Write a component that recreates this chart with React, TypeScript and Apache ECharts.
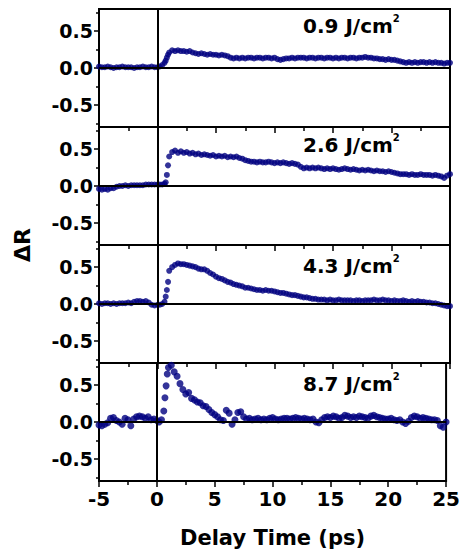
import React, { useEffect, useRef } from 'react';
import * as echarts from 'echarts';

// Delay time (ps) shared by all four panels
const TIME = [
  -5, -4.75, -4.5, -4.25, -4, -3.75, -3.5, -3.25, -3, -2.75, -2.5, -2.25, -2, -1.75, -1.5, -1.25, -1, -0.75, -0.5, -0.25,
  0, 0.2, 0.4, 0.6, 0.7, 0.8, 0.9, 1.0,
  1.25, 1.5, 1.75, 2, 2.25, 2.5, 2.75, 3, 3.25, 3.5, 3.75, 4, 4.25, 4.5, 4.75, 5,
  5.25, 5.5, 5.75, 6, 6.25, 6.5, 6.75, 7, 7.25, 7.5, 7.75, 8, 8.25, 8.5, 8.75, 9, 9.25, 9.5, 9.75, 10,
  10.25, 10.5, 10.75, 11, 11.25, 11.5, 11.75, 12, 12.25, 12.5, 12.75, 13, 13.25, 13.5, 13.75, 14, 14.25, 14.5, 14.75, 15,
  15.25, 15.5, 15.75, 16, 16.25, 16.5, 16.75, 17, 17.25, 17.5, 17.75, 18, 18.25, 18.5, 18.75, 19, 19.25, 19.5, 19.75, 20,
  20.25, 20.5, 20.75, 21, 21.25, 21.5, 21.75, 22, 22.25, 22.5, 22.75, 23, 23.25, 23.5, 23.75, 24, 24.25, 24.5, 24.75, 25,
];

// ΔR at 0.9 J/cm²
const R_09 = [
  0.02, 0.01, 0.01, 0.02, 0.01, 0.0, 0.01, 0.01, 0.02, 0.01, 0.01, 0.01, 0.0, 0.01, 0.01, 0.02, 0.01, 0.01, 0.02, 0.01,
  0.01, 0.02, 0.04, 0.07, 0.1, 0.14, 0.18, 0.21,
  0.24, 0.23, 0.24, 0.23, 0.23, 0.22, 0.23, 0.21, 0.2, 0.19, 0.2, 0.19, 0.18, 0.19, 0.18, 0.18,
  0.17, 0.18, 0.17, 0.16, 0.14, 0.13, 0.14, 0.13, 0.14, 0.13, 0.14, 0.14, 0.13, 0.14, 0.14, 0.13, 0.14, 0.14, 0.13, 0.14,
  0.12, 0.11, 0.12, 0.13, 0.13, 0.14, 0.13, 0.14, 0.14, 0.14, 0.13, 0.14, 0.14, 0.13, 0.14, 0.14, 0.13, 0.14, 0.14, 0.13,
  0.14, 0.13, 0.14, 0.14, 0.13, 0.14, 0.14, 0.13, 0.14, 0.14, 0.15, 0.14, 0.14, 0.13, 0.13, 0.12, 0.12, 0.11, 0.12, 0.11,
  0.11, 0.1, 0.09, 0.08, 0.07, 0.08, 0.07, 0.08, 0.07, 0.08, 0.08, 0.07, 0.08, 0.07, 0.08, 0.07, 0.07, 0.06, 0.07, 0.07,
];

// ΔR at 2.6 J/cm²
const R_26 = [
  -0.04, -0.05, -0.04, -0.05, -0.03, -0.03, -0.01, 0.0, 0.0, 0.01, 0.0, 0.01, 0.01, 0.01, 0.01, 0.01, 0.02, 0.02, 0.02, 0.02,
  0.02, 0.02, 0.02, 0.03, 0.05, 0.15, 0.28, 0.4,
  0.46, 0.48, 0.45, 0.47, 0.45, 0.46, 0.44, 0.45, 0.43, 0.44, 0.42, 0.43, 0.42, 0.41, 0.42, 0.4,
  0.41, 0.4, 0.41, 0.39, 0.4, 0.39, 0.4, 0.38, 0.37, 0.35, 0.34, 0.33, 0.33, 0.32, 0.33, 0.32, 0.32, 0.33, 0.32, 0.31,
  0.32, 0.31, 0.32, 0.31, 0.3, 0.31, 0.3, 0.29, 0.26, 0.24, 0.25, 0.24, 0.25, 0.24, 0.25, 0.24, 0.23, 0.24, 0.23, 0.24,
  0.23, 0.22, 0.23, 0.24, 0.23, 0.22, 0.23, 0.22, 0.21, 0.22, 0.21, 0.22, 0.21, 0.2, 0.21, 0.2, 0.2, 0.19, 0.2, 0.19,
  0.18, 0.17, 0.16, 0.16, 0.16, 0.15, 0.16, 0.15, 0.15, 0.16, 0.15, 0.15, 0.15, 0.14, 0.15, 0.14, 0.13, 0.11, 0.14, 0.16,
];

// ΔR at 4.3 J/cm²
const R_43 = [
  0.01, 0.0, 0.01, 0.01, 0.0, 0.01, 0.0, 0.01, 0.01, 0.01, 0.02, 0.01, 0.03, 0.04, 0.04, 0.03, 0.04, 0.02, -0.01, -0.02,
  -0.01, -0.01, 0.0, 0.03, 0.1, 0.19, 0.3, 0.45,
  0.5, 0.53, 0.55, 0.54, 0.54, 0.53, 0.52, 0.51, 0.5, 0.48, 0.47, 0.47, 0.45, 0.42, 0.4, 0.37,
  0.35, 0.34, 0.32, 0.3, 0.29, 0.27, 0.26, 0.25, 0.24, 0.22, 0.22, 0.21, 0.2, 0.19, 0.19, 0.18, 0.19, 0.18, 0.18, 0.17,
  0.16, 0.15, 0.15, 0.14, 0.13, 0.12, 0.12, 0.11, 0.1, 0.09, 0.09, 0.08, 0.07, 0.07, 0.06, 0.06, 0.06, 0.05, 0.06, 0.05,
  0.05, 0.06, 0.05, 0.05, 0.05, 0.05, 0.04, 0.05, 0.05, 0.04, 0.05, 0.05, 0.05, 0.06, 0.05, 0.05, 0.06, 0.05, 0.05, 0.04,
  0.05, 0.04, 0.04, 0.05, 0.04, 0.03, 0.04, 0.03, 0.04, 0.03, 0.03, 0.02, 0.02, 0.01, 0.01, 0.0, -0.01, -0.02, -0.03, -0.03,
];

// ΔR at 8.7 J/cm²
const R_87 = [
  -0.04, -0.05, -0.03, -0.01, 0.05, 0.06, 0.02, 0.0, -0.03, 0.05, 0.03, -0.05, 0.04, 0.07, 0.08, 0.07, 0.05, 0.07, 0.03, 0.04,
  0.02, 0.0, 0.03, 0.15, 0.33, 0.49, 0.65, 0.74,
  0.77, 0.68, 0.62, 0.52, 0.44, 0.38, 0.4, 0.32, 0.3, 0.27, 0.26, 0.22, 0.21, 0.17, 0.13, 0.1,
  0.07, 0.03, 0.02, 0.16, 0.12, -0.03, 0.03, 0.13, 0.14, 0.07, 0.04, 0.05, 0.03, 0.04, 0.05, 0.03, 0.04, 0.03, 0.05, 0.06,
  0.04, 0.03, 0.04, 0.05, 0.05, 0.04, 0.05, 0.06, 0.05, 0.04, 0.05, 0.04, 0.03, 0.04, 0.0, -0.01, 0.03, 0.06, 0.07, 0.06,
  0.08, 0.07, 0.05, 0.06, 0.09, 0.08, 0.06, 0.07, 0.06, 0.08, 0.07, 0.06, 0.05, 0.08, 0.09, 0.07, 0.06, 0.05, 0.04, 0.04,
  0.05, 0.03, 0.02, 0.03, 0.0, -0.02, 0.01, 0.06, 0.08, 0.07, 0.05, 0.06, 0.05, 0.04, 0.03, 0.03, 0.02, -0.05, -0.07, 0.0,
];

const PANEL_VALUES = [R_09, R_26, R_43, R_87];
const PANEL_FLUENCE = ['0.9', '2.6', '4.3', '8.7'];
const Y_MAJOR_TICKS = [-0.5, 0, 0.5];
const Y_MINOR_TICKS = [-0.75, -0.25, 0.25, 0.75];
const X_TITLE = 'Delay Time (ps)';
const Y_TITLE = 'ΔR';

export default function App() {
  const ref = useRef<HTMLDivElement>(null);

  useEffect(() => {
    const chart = echarts.init(ref.current!, null, { renderer: 'svg' });
    const FONT = 'DejaVu Sans';
    const BLUE = '#000080';
    const tops = [9, 127, 245, 363];
    const labelCapTops = [20, 139, 260, 378];
    const H = 118;
    const LEFT = 99;
    const RIGHT = 13;

    const grid = tops.map((t) => ({
      left: LEFT,
      right: RIGHT,
      top: t,
      height: H,
      show: true,
      borderColor: '#000',
      borderWidth: 2,
      backgroundColor: 'transparent',
    }));

    const xAxis = tops.map((_, i) => ({
      type: 'value',
      gridIndex: i,
      min: -5,
      max: 25,
      interval: 5,
      axisLine: { show: true, onZero: false, lineStyle: { color: '#000', width: 2 } },
      axisTick: { show: true, inside: false, length: 6, lineStyle: { color: '#000', width: 1.5 } },
      minorTick: { show: true, splitNumber: 2, length: 4, lineStyle: { color: '#000', width: 1.5 } },
      splitLine: { show: false },
      axisLabel:
        i === 3
          ? { show: true, fontFamily: FONT, fontWeight: 'bold', fontSize: 20, color: '#000', margin: 8 }
          : { show: false },
      name: i === 3 ? X_TITLE : '',
      nameLocation: 'middle',
      nameGap: 46,
      nameTextStyle: { fontFamily: FONT, fontWeight: 'bold', fontSize: 21, color: '#000' },
    }));

    const yAxis: any[] = [];
    tops.forEach((_, i) => {
      yAxis.push({
        type: 'value',
        gridIndex: i,
        min: -0.8,
        max: 0.8,
        position: 'left',
        axisLine: { show: true, onZero: false, lineStyle: { color: '#000', width: 2 } },
        axisTick: { show: true, inside: false, length: 5, customValues: Y_MAJOR_TICKS, lineStyle: { color: '#000', width: 1.5 } },
        axisLabel: {
          show: true,
          customValues: Y_MAJOR_TICKS,
          formatter: (v: number) => v.toFixed(1),
          fontFamily: FONT,
          fontWeight: 'bold',
          fontSize: 19,
          color: '#000',
          margin: 6,
        },
        splitLine: { show: false },
      });
      yAxis.push({
        type: 'value',
        gridIndex: i,
        min: -0.8,
        max: 0.8,
        position: 'left',
        offset: 0,
        axisLine: { show: false, onZero: false },
        axisTick: { show: true, inside: false, length: 3, customValues: Y_MINOR_TICKS, lineStyle: { color: '#000', width: 1.5 } },
        axisLabel: { show: false },
        splitLine: { show: false },
      });
    });

    const series = PANEL_VALUES.map((vals, i) => ({
      type: 'scatter',
      xAxisIndex: i,
      yAxisIndex: 2 * i,
      symbol: 'circle',
      symbolSize: i === 3 ? 7 : 6,
      itemStyle: { color: BLUE },
      data: TIME.map((t, k) => [t, vals[k]]),
      markLine: {
        silent: true,
        symbol: 'none',
        label: { show: false },
        lineStyle: { color: '#000', width: 2, type: 'solid' },
        data: [{ yAxis: 0 }, { xAxis: 0 }],
      },
      z: 2,
    }));

    const graphic: any[] = [
      {
        type: 'text',
        x: 22,
        y: 245,
        rotation: Math.PI / 2,
        style: {
          text: Y_TITLE,
          fontFamily: FONT,
          fontWeight: 'bold',
          fontSize: 22,
          fill: '#000',
          align: 'center',
          verticalAlign: 'middle',
        },
      },
    ];
    PANEL_FLUENCE.forEach((f, i) => {
      graphic.push({
        type: 'text',
        x: 303,
        y: labelCapTops[i] - 7,
        style: {
          text: `{a|${f} J/cm}{b|2}`,
          verticalAlign: 'top',
          rich: {
            a: { fontFamily: FONT, fontWeight: 'bold', fontSize: 20, lineHeight: 26, fill: '#000' },
            b: { fontFamily: FONT, fontWeight: 'bold', fontSize: 10, lineHeight: 10, fill: '#000', verticalAlign: 'top' },
          },
        },
      });
    });

    chart.setOption({
      animation: false,
      backgroundColor: '#fff',
      grid,
      xAxis,
      yAxis,
      series,
      graphic,
    });

    return () => chart.dispose();
  }, []);

  return <div ref={ref} style={{ position: 'absolute', left: 0, top: 0, width: 463, height: 557 }} />;
}
